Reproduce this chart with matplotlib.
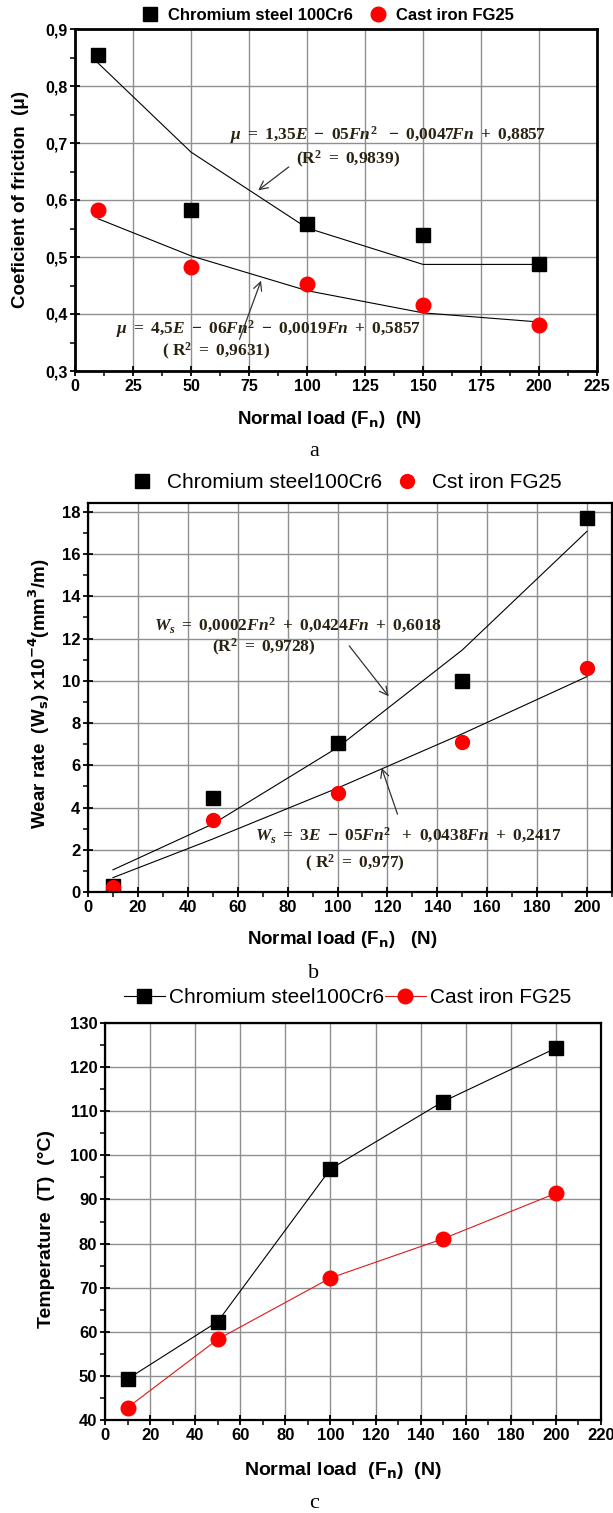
import numpy as np
import matplotlib.pyplot as plt
from matplotlib.ticker import MultipleLocator, FuncFormatter

plt.rcParams['font.family'] = ['Liberation Sans', 'DejaVu Sans']
plt.rcParams['mathtext.fontset'] = 'custom'
plt.rcParams['mathtext.rm'] = 'Liberation Serif:bold'
plt.rcParams['mathtext.it'] = 'Liberation Serif:italic:bold'
plt.rcParams['mathtext.bf'] = 'Liberation Serif:bold'

# data
load = [10, 50, 100, 150, 200]

# (a) coefficient of friction
mu_steel = [0.855, 0.582, 0.558, 0.538, 0.487]
mu_iron = [0.583, 0.483, 0.453, 0.416, 0.381]
mu_steel_fit = [0.840, 0.684, 0.551, 0.487, 0.487]
mu_iron_fit = [0.567, 0.502, 0.441, 0.402, 0.386]

# (b) wear rate x1e-4 mm3/m
wear_steel = [0.3, 4.45, 7.05, 10.0, 17.7]
wear_iron = [0.25, 3.4, 4.7, 7.1, 10.6]
wear_steel_fit = [1.05, 3.22, 6.84, 11.46, 17.08]
wear_iron_fit = [0.68, 2.51, 4.92, 7.49, 10.2]

# (c) temperature
temp_steel = [49.3, 62.3, 96.9, 112.2, 124.3]
temp_iron = [42.8, 58.3, 72.2, 81.1, 91.4]

RED = '#ff0000'
GRID = '#8f8f8f'
ANN = '#2a2213'
ANN_SIZE = 12.5
W, H = 613, 1513

fig = plt.figure(figsize=(W / 100, H / 100), dpi=100)


def box(l, r, t, b):
    return [l / W, 1 - b / H, (r - l) / W, (b - t) / H]


def style(ax, xmaj, xmin, ymaj, ymin, lw, tsize):
    ax.xaxis.set_major_locator(MultipleLocator(xmaj))
    ax.xaxis.set_minor_locator(MultipleLocator(xmin))
    ax.yaxis.set_major_locator(MultipleLocator(ymaj))
    ax.yaxis.set_minor_locator(MultipleLocator(ymin))
    ax.grid(True, which='major', color=GRID, lw=1.0)
    ax.set_axisbelow(True)
    for s in ax.spines.values():
        s.set_linewidth(lw)
    ax.tick_params(which='major', direction='inout', length=7, width=1.3,
                   labelsize=tsize, pad=2)
    ax.tick_params(which='minor', direction='out', length=3.5, width=1.1)
    for lab in ax.get_xticklabels() + ax.get_yticklabels():
        lab.set_fontweight('bold')


def note(ax, x, y, s):
    ax.text(x, y, s, fontsize=ANN_SIZE, color=ANN, ha='center', va='center')


def arrow(ax, head, tail):
    ax.annotate('', xy=head, xytext=tail,
                arrowprops=dict(arrowstyle='->', color='#333333', lw=0.9, mutation_scale=15))


# ---------------- (a) ----------------
ax1 = fig.add_axes(box(75, 597, 29, 371))
ax1.plot(load, mu_steel_fit, color='black', lw=0.8)
ax1.plot(load, mu_iron_fit, color='black', lw=0.8)
ax1.plot(load, mu_steel, 's', color='black', ms=10.5, label='Chromium steel 100Cr6')
ax1.plot(load, mu_iron, 'o', color=RED, ms=10.5, label='Cast iron FG25')
ax1.set_xlim(0, 225)
ax1.set_ylim(0.3, 0.9)
style(ax1, 25, 12.5, 0.1, 0.05, 2.0, 11.5)
ax1.yaxis.set_major_formatter(FuncFormatter(lambda v, p: f'{v:.1f}'.replace('.', ',')))
for lab in ax1.get_yticklabels():
    lab.set_fontweight('bold')
ax1.set_xlabel(r'Normal load (F$_\mathbf{n}$)  (N)', fontsize=13.5, fontweight='bold',
               math_fontfamily='dejavusans')
ax1.set_ylabel('Coeficient of friction  (μ)', fontsize=13.5, fontweight='bold')
ax1.xaxis.set_label_coords(0.487, -0.112)
ax1.yaxis.set_label_coords(-0.088, 0.5)
arrow(ax1, (78.0, 0.614), (93.1, 0.661))
arrow(ax1, (80.6, 0.463), (70.5, 0.351))
note(ax1, 135, 0.714, r'$\mu\ =\ 1{,}35E\ -\ 05Fn^2\ \ -\ 0{,}0047Fn\ +\ 0{,}8857$')
note(ax1, 117.7, 0.672, r'$(\mathrm{R}^2\ =\ 0{,}9839)$')
note(ax1, 83.2, 0.3735, r'$\mu\ =\ 4{,}5E\ -\ 06Fn^2\ -\ 0{,}0019Fn\ +\ 0{,}5857$')
note(ax1, 60.8, 0.334, r'$(\ \mathrm{R}^2\ =\ 0{,}9631)$')
fig.legend(handles=ax1.get_lines()[2:], loc='center', bbox_to_anchor=(0.535, 0.990),
           ncol=2, frameon=False, prop={'weight': 'bold', 'size': 12},
           handletextpad=0.6, columnspacing=1.0, handlelength=1.0)

# ---------------- (b) ----------------
ax2 = fig.add_axes(box(88, 612, 503, 892))
ax2.plot(load, wear_steel_fit, color='black', lw=0.8)
ax2.plot(load, wear_iron_fit, color='black', lw=0.8)
ax2.plot(load, wear_steel, 's', color='black', ms=10, label='Chromium steel100Cr6')
ax2.plot(load, wear_iron, 'o', color=RED, ms=10, label='Cst iron FG25')
ax2.set_xlim(0, 210)
ax2.set_ylim(0, 18.42)
style(ax2, 20, 10, 2, 1, 1.6, 12)
ax2.set_xlabel(r'Normal load (F$_\mathbf{n}$)   (N)', fontsize=13.5, fontweight='bold',
               math_fontfamily='dejavusans')
ax2.set_ylabel(r'Wear rate  (W$_\mathbf{s}$) x10$^\mathbf{-4}$(mm$^\mathbf{3}$/m)',
               fontsize=13.5, fontweight='bold', math_fontfamily='dejavusans')
ax2.xaxis.set_label_coords(0.485, -0.094)
ax2.yaxis.set_label_coords(-0.068, 0.51)
arrow(ax2, (121.2, 9.16), (104, 11.76))
arrow(ax2, (117.3, 6.0), (124.4, 3.56))
note(ax2, 84, 12.65, r'$W_s\ =\ 0{,}0002Fn^2\ +\ 0{,}0424Fn\ +\ 0{,}6018$')
note(ax2, 70.4, 11.57, r'$(\mathrm{R}^2\ =\ 0{,}9728)$')
note(ax2, 128.2, 2.70, r'$W_s\ =\ 3E\ -\ 05Fn^2\ \ +\ 0{,}0438Fn\ +\ 0{,}2417$')
note(ax2, 107, 1.35, r'$(\ \mathrm{R}^2\ =\ 0{,}977)$')
fig.legend(handles=ax2.get_lines()[2:], loc='center', bbox_to_anchor=(0.564, 0.681),
           ncol=2, frameon=False, fontsize=15, handletextpad=0.6, columnspacing=0.6,
           handlelength=1.2)

# ---------------- (c) ----------------
ax3 = fig.add_axes(box(105, 601, 1023, 1420))
ax3.plot(load, temp_steel, '-s', color='black', lw=0.8, ms=10.5,
         label='Chromium steel100Cr6')
ax3.plot(load, temp_iron, '-o', color='#e01818', mfc=RED, mec=RED, lw=0.8, ms=10.5,
         label='Cast iron FG25')
ax3.set_xlim(0, 220)
ax3.set_ylim(40, 130)
style(ax3, 20, 10, 10, 5, 1.6, 12)
ax3.set_xlabel(r'Normal load  (F$_\mathbf{n}$)  (N)', fontsize=14, fontweight='bold',
               math_fontfamily='dejavusans')
ax3.set_ylabel('Temperature  (T)  (°C)', fontsize=14, fontweight='bold')
ax3.xaxis.set_label_coords(0.48, -0.102)
ax3.yaxis.set_label_coords(-0.1, 0.48)
fig.legend(handles=ax3.get_lines(), loc='center', bbox_to_anchor=(0.567, 0.3404),
           ncol=2, frameon=False, fontsize=15, handletextpad=0.2, columnspacing=0.0,
           handlelength=2.0)

# captions
for y, s in [(0.7013, 'a'), (0.3569, 'b'), (0.0066, 'c')]:
    fig.text(0.512, y, s, fontsize=16, family='Liberation Serif', ha='center', va='center')

fig.savefig('out.png', dpi=100)
